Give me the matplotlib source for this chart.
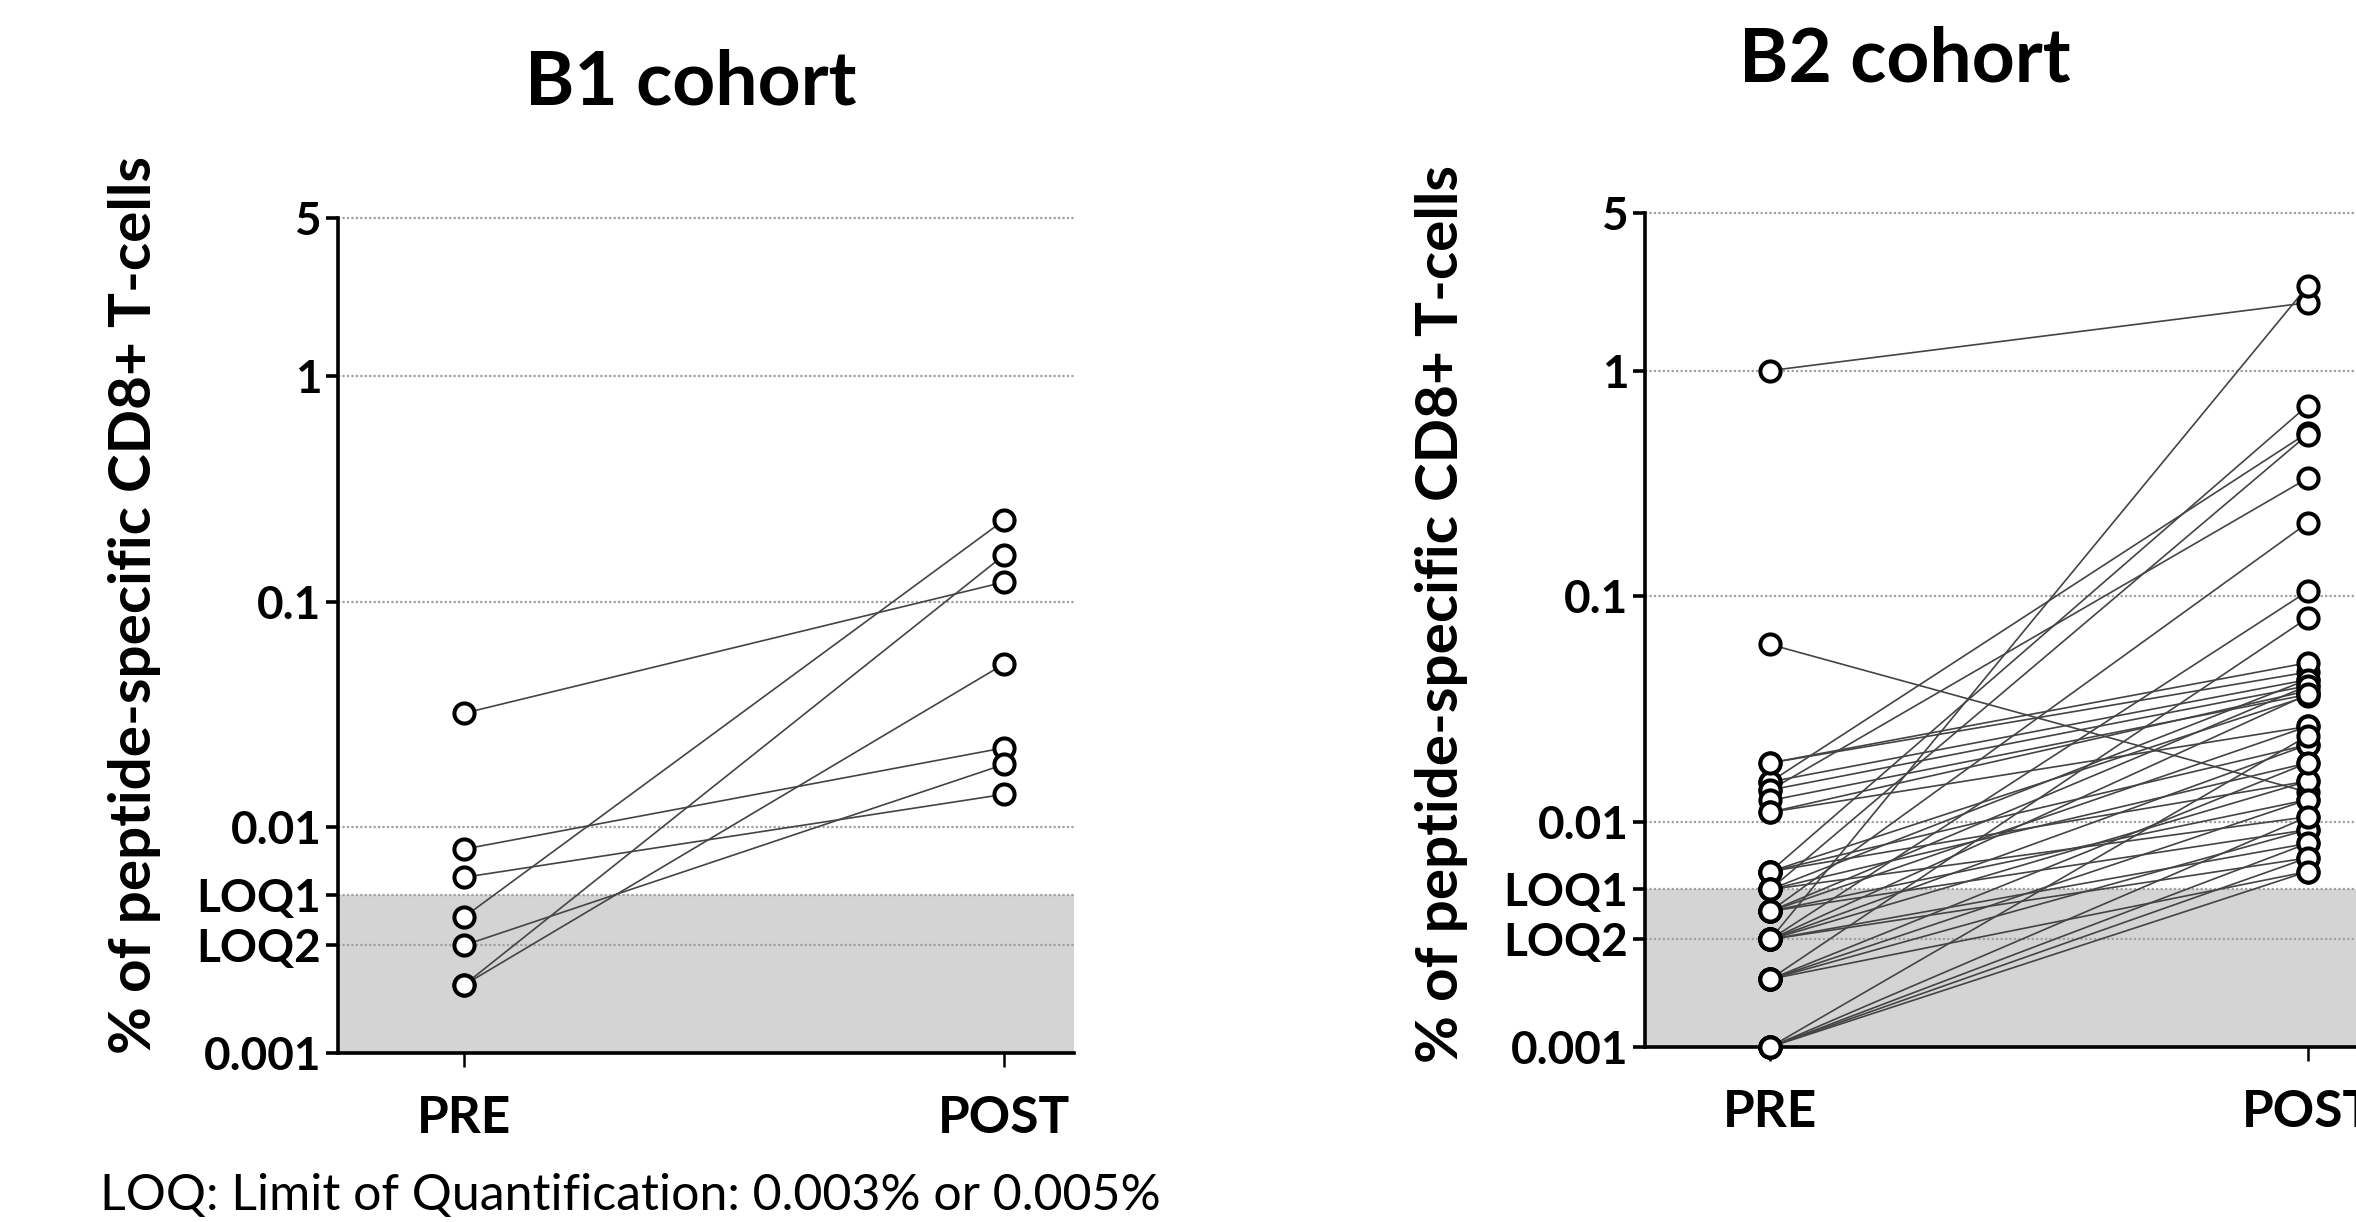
import matplotlib
matplotlib.use("Agg")
import matplotlib.pyplot as plt

plt.rcParams['font.family'] = ['Lato', 'DejaVu Sans']

# tick positions / labels on the log axis
ytick_vals = [0.001, 0.003, 0.005, 0.01, 0.1, 1, 5]
ytick_labels = ["0.001", "LOQ2", "LOQ1", "0.01", "0.1", "1", "5"]
loq1 = 0.005
xcats = ["PRE", "POST"]

# B1 cohort, one entry per patient
b1_pre = [0.032, 0.0080, 0.0060, 0.0040, 0.0030, 0.0020, 0.0020]
b1_post = [0.122, 0.0225, 0.014, 0.230, 0.019, 0.161, 0.053]

# B2 cohort, one entry per patient
b2_pre = [1.0, 0.061, 0.0030,
          0.0150, 0.0138, 0.0060, 0.0050, 0.0040, 0.0030, 0.0020,
          0.0182, 0.0150, 0.0138, 0.0124, 0.0110, 0.0110, 0.0182,
          0.0060, 0.0060, 0.0060,
          0.0050, 0.0050, 0.0050,
          0.0040, 0.0040, 0.0040, 0.0040,
          0.0030, 0.0030, 0.0030, 0.0030, 0.0030,
          0.0020, 0.0020, 0.0020, 0.0020,
          0.0010, 0.0010, 0.0010, 0.0010, 0.0010]
b2_post = [2.0, 0.0135, 2.37,
           0.53, 0.333, 0.70, 0.52, 0.211, 0.105, 0.080,
           0.046, 0.0426, 0.040, 0.0366, 0.038, 0.0264, 0.0506,
           0.036, 0.0219, 0.0151,
           0.0426, 0.0182, 0.0105,
           0.040, 0.0264, 0.0125, 0.0092,
           0.0366, 0.0219, 0.0151, 0.0080, 0.0069,
           0.0182, 0.0125, 0.0092, 0.0060,
           0.0105, 0.0080, 0.0069, 0.0060, 0.0240]


def draw_panel(ax, pre, post):
    ax.set_yscale("log")
    ax.set_ylim(0.001, 5)
    ax.set_xlim(-0.233, 1.129)

    # grey band below the limit of quantification
    ax.axhspan(0.001, loq1, color="#d4d4d4", zorder=0, lw=0)
    for v in ytick_vals:
        ax.axhline(v, color="#a0a0a0", lw=1.6, ls=(0, (1, 1)), zorder=1,
                   clip_on=False)

    for a, b in zip(pre, post):
        ax.plot([0, 1], [a, b], color="#444444", lw=1.2, zorder=2,
                solid_capstyle="butt")
    ax.plot([0] * len(pre), pre, "o", ms=14.5, mfc="white", mec="black",
            mew=2.9, ls="none", zorder=3, clip_on=False)
    ax.plot([1] * len(post), post, "o", ms=14.5, mfc="white", mec="black",
            mew=2.9, ls="none", zorder=3, clip_on=False)

    ax.set_yticks(ytick_vals)
    ax.set_yticklabels(ytick_labels)
    ax.minorticks_off()
    ax.set_xticks([0, 1])
    ax.set_xticklabels(xcats)
    for lab in ax.get_yticklabels():
        lab.set_fontweight("bold")
        lab.set_fontsize(33)
    for lab in ax.get_xticklabels():
        lab.set_fontweight("bold")
        lab.set_fontsize(37)

    ax.spines["top"].set_visible(False)
    ax.spines["right"].set_visible(False)
    ax.spines["left"].set_linewidth(2.6)
    ax.spines["bottom"].set_linewidth(2.6)
    ax.tick_params(axis="y", length=9, width=2.6, pad=3)
    ax.tick_params(axis="x", length=10, width=1.8, pad=20)
    ax.patch.set_alpha(0)


fig = plt.figure(figsize=(23.56, 12.22), dpi=100)
ax1 = fig.add_axes([0.1435, 0.1383, 0.3124, 0.6833])
ax2 = fig.add_axes([0.6982, 0.1432, 0.3107, 0.6825])

draw_panel(ax1, b1_pre, b1_post)
draw_panel(ax2, b2_pre, b2_post)

fig.text(691 / 2356, 1 - 83 / 1222, "B1 cohort", ha="center", va="center",
         fontsize=54, fontweight="bold")
fig.text(1905 / 2356, 1 - 60 / 1222, "B2 cohort", ha="center", va="center",
         fontsize=54, fontweight="bold")

ylab = "% of peptide-specific CD8+ T-cells"
fig.text(135 / 2356, 1 - 605 / 1222, ylab, rotation=90, ha="center",
         va="center", fontsize=42, fontweight="bold")
fig.text(1442 / 2356, 1 - 614 / 1222, ylab, rotation=90, ha="center",
         va="center", fontsize=42, fontweight="bold")

fig.text(100 / 2356, 1 - 1196 / 1222,
         "LOQ: Limit of Quantification: 0.003% or 0.005%",
         ha="left", va="center", fontsize=36)

fig.savefig("out.png", dpi=100)
